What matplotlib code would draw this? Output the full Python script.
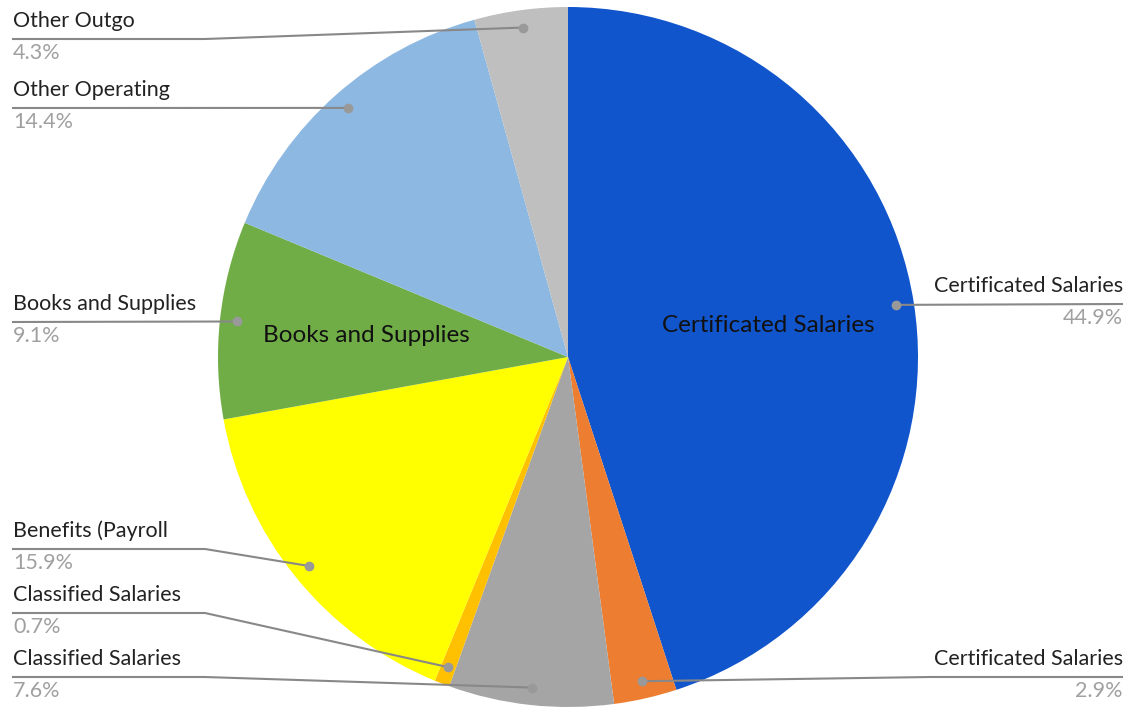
import numpy as np
import matplotlib.pyplot as plt

plt.rcParams['font.family'] = ['Lato', 'DejaVu Sans']

categories = ['Certificated Salaries', 'Certificated Salaries', 'Classified Salaries',
              'Classified Salaries', 'Benefits (Payroll', 'Books and Supplies',
              'Other Operating', 'Other Outgo']
shares = [44.9, 2.9, 7.6, 0.7, 15.9, 9.1, 14.4, 4.3]
colors = ['#1155cc', '#ed7d31', '#a5a5a5', '#ffc000', '#ffff00', '#70ad47',
          '#8db8e2', '#bfbfbf']
inside = [True, False, False, False, False, True, False, False]

W, H = 1134, 708
cx, cy, R = 568, 357, 350

fig = plt.figure(figsize=(W / 100, H / 100), dpi=100)
ax = fig.add_axes([0, 0, 1, 1])

wedges, _ = ax.pie(shares, colors=colors, startangle=90, counterclock=False,
                   center=(cx, H - cy), radius=R, frame=True,
                   wedgeprops=dict(linewidth=0))
ax.set_xlim(0, W)
ax.set_ylim(0, H)
ax.set_aspect('auto')
ax.axis('off')


def py(y):
    return H - y


# label placement: side, y of the leader line, x where the line bends
layout = [('R', 304, None), ('R', 677, 930), ('L', 677, 205), ('L', 613, 205),
          ('L', 549, 205), ('L', 322, None), ('L', 108, None), ('L', 39, 205)]

line_c = '#888888'
for w, name, pct, (side, ly, bend), ins in zip(wedges, categories, shares, layout, inside):
    mid = np.deg2rad((w.theta1 + w.theta2) / 2)
    dx, dy = cx + 0.95 * R * np.cos(mid), cy - 0.95 * R * np.sin(mid)
    ax.plot(dx, py(dy), 'o', color='#999999', ms=6, zorder=5)
    if side == 'L':
        xs = [13, bend, dx] if bend else [13, dx]
        ys = [ly, ly, dy] if bend else [ly, dy]
        tx, ha = 13, 'left'
    else:
        xs = [dx, bend, 1122] if bend else [dx, 1122]
        ys = [dy, ly, ly] if bend else [dy, ly]
        tx, ha = 1123, 'right'
    ax.plot(xs, [py(v) for v in ys], color=line_c, lw=1.5, zorder=4)
    ax.text(tx, py(ly - 12), name, ha=ha, va='baseline', fontsize=15.5, color='#222222')
    ax.text(tx, py(ly + 4), f'{pct}%', ha=ha, va='top', fontsize=15.5, color='#a0a0a0')
    if ins:
        ix, iy = cx + 0.58 * R * np.cos(mid), cy - 0.58 * R * np.sin(mid)
        ax.text(ix, py(iy), name, ha='center', va='center', fontsize=17.5, color='#111111')

fig.savefig('out.png', dpi=100)
